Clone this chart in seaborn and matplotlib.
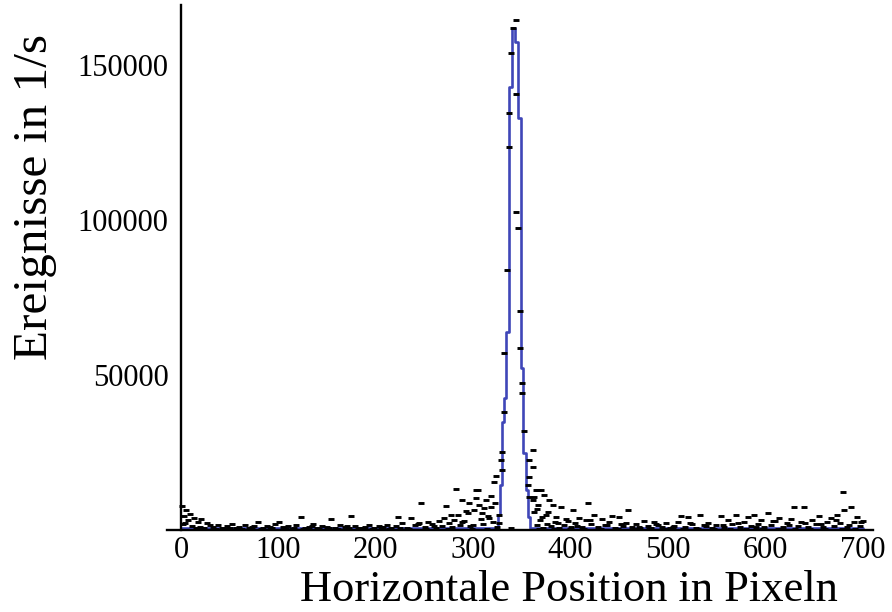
import matplotlib
matplotlib.use("Agg")
import matplotlib.pyplot as plt
import seaborn as sns
import numpy as np
from matplotlib.ticker import MultipleLocator, FixedLocator

# ---- data ----
# blue step curve (bin edges in pixel position, heights in events/s)
fit_edges = [0, 325, 327.5, 330, 332, 334, 337, 340, 343, 345.5, 349, 351, 354, 356, 358, 700]
fit_heights = [650, 4800, 14500, 34800, 42600, 63900, 142900, 162000, 157400,
               132900, 52300, 24800, 12900, 4200, 650]

# measured points (position, events/s)
pts_x = [1, 5, 3, 9, 13, 7, 17, 21, 2, 11, 27, 15, 24,
         33, 38, 42, 47, 52, 56, 60, 66, 70, 75, 79, 84, 88, 93, 97, 101, 105, 110, 114, 118,
         123, 127, 131, 136, 140, 145, 150, 154, 158, 163, 168, 172, 175, 179, 184, 189, 193,
         198, 203, 207, 212, 216, 221, 223, 227, 232, 236, 240, 244, 246, 250, 254, 258, 262,
         265, 268, 270, 272, 275, 278, 280, 282, 284, 286, 289, 291, 293, 295, 297, 300, 301,
         303, 305, 306, 303, 308, 310, 311, 313, 315, 318, 318, 320, 321, 323, 324, 326, 329,
         330, 330, 332, 332, 335, 337, 337, 339, 341, 344, 344, 344, 346, 348, 348, 350, 350,
         352, 361, 357, 361, 357, 356, 367, 357, 361, 373, 378, 382, 367, 362, 375, 385, 339,
         362, 370, 364,
         365, 369, 372, 376, 380, 384, 388, 390, 393, 397, 400, 402, 405, 409, 412, 416, 418,
         421, 424, 428, 432, 435, 439, 442, 446, 450, 454, 457, 459, 463, 467, 471, 475, 479,
         483, 486, 490, 494, 498, 502, 506, 510, 513, 517, 521, 525, 529, 533, 537, 541, 545,
         549, 554, 558, 562, 566, 570, 574, 578, 582, 585, 588, 592, 595, 599, 603, 606, 610,
         614, 618, 622, 626, 629, 633, 637, 640, 644, 648, 652, 655, 659, 663, 667, 670, 674,
         677, 680, 681, 684, 688, 691, 694, 697, 700,
         36, 45, 63, 82, 108, 125, 142, 161, 182, 196, 214, 234, 252, 274, 299, 314, 368, 383,
         399, 414, 431, 449, 466, 481, 497, 515, 531, 547, 564, 580, 597, 613, 630, 646, 661,
         679, 692,
         4, 19, 30, 50, 73, 91, 116, 134, 152, 170, 187, 205, 225, 243, 260, 277, 288, 296,
         309, 316, 322, 327, 366, 371, 377, 387, 395, 407, 420, 437, 452, 470, 488, 505, 523,
         539, 556, 572, 590, 608, 624, 641, 657, 672, 686, 698]
pts_y = [7900, 6300, 4600, 5300, 4000, 3100, 2700, 3500, 1800, 1300, 2200, 800, 600,
         900, 1500, 500, 1200, 2000, 700, 1000, 1700, 600, 1300, 2600, 800, 1400, 500, 1900,
         2600, 900, 1200, 400, 1600,
         4200, 700, 1100, 1800, 500, 1300, 900, 3500, 600, 1500, 1000, 700, 4500, 1400, 500,
         1100, 1700,
         600, 1300, 900, 1600, 500, 1200, 4200, 2100, 800, 3900, 1500, 2300, 8700, 1000, 2600,
         1800, 700,
         2900, 1300, 3900, 7700, 2200, 1000, 3300, 13200, 5000, 1700, 9700, 2800, 6100, 5500,
         1200, 1600, 6500,
         12900, 12900, 8100, 10300, 3600, 2000, 7100, 9700, 4400, 11000, 7400, 2700, 15500,
         17400, 1000, 4800, 22600,
         25200, 19400, 38100, 57100, 83900, 123600, 134500, 153900, 162000, 164500, 140600,
         102600, 97400, 70600, 58700, 47400, 44200,
         31900, 25800, 22600, 20300, 17100, 14500, 12900, 10600, 9700, 11300, 9700, 8100,
         8100, 5800, 4800, 4200, 650,
         10600, 12900, 12900,
         1500, 3200, 800, 2000, 1200, 2600, 700, 7400, 1700, 3000, 900, 6500, 2200, 4000, 1100,
         3300, 8700,
         1800, 4700, 900, 3600, 1500, 2600, 4500, 700, 4200, 1300, 2400, 6500, 900, 1900, 600,
         2800, 1200,
         700, 2600, 1500, 900, 2100, 600, 1400, 2700, 4500, 1000, 4200, 1800, 700, 4800, 1500,
         2300, 800,
         1700, 4500, 1100, 3200, 2000, 5000, 900, 2500, 4200, 1300, 4800, 2000, 3300, 900,
         5500, 1500, 2800,
         4000, 1100, 2200, 3400, 7400, 1300, 2600, 7400, 900, 3200, 1800, 4600, 1000, 2700,
         3800, 1300, 5000,
         2100, 12300, 6500, 900, 7400, 2500, 4300, 1200, 3000,
         300, 400, 350, 450, 300, 350, 250, 400, 300, 450, 350, 300, 400, 350, 450, 300, 400,
         350,
         300, 450, 300, 350, 400, 300, 450, 350, 300, 400, 350, 300, 450, 350, 300, 400, 350,
         300, 400,
         2200, 1000, 1700, 800, 1100, 900, 700, 1400, 800, 1200, 600, 1000, 700, 1900, 1400,
         4700, 2500, 8800,
         5600, 3900, 8600, 2300, 6800, 4100, 5900, 2300, 3400, 1200, 3100, 1600, 2000, 1100,
         1800,
         900, 2200, 1300, 1700, 2400, 1100, 3000, 1600, 2300, 1900, 3300, 1500, 2600]

x_ticks = [0, 100, 200, 300, 400, 500, 600, 700]
y_ticks = [50000, 100000, 150000]

# ---- figure ----
sns.set_theme(style="white")
plt.rcParams["font.family"] = ["Liberation Serif", "DejaVu Serif"]

fig = plt.figure(figsize=(8.92, 6.12), dpi=100)
ax = fig.add_axes([167 / 892, (612 - 530) / 612, 706 / 892, 525 / 612])

step_y = list(fit_heights) + [fit_heights[-1]]
sns.lineplot(x=fit_edges, y=step_y, drawstyle="steps-post", color="#3f46b8",
             linewidth=1.9, estimator=None, sort=False, ax=ax, zorder=2)
sns.scatterplot(x=pts_x, y=pts_y, marker="_", s=22, color="black", linewidth=2.1,
                ax=ax, zorder=3, clip_on=False)

ax.set_xlim(-14.4, 710.5)
ax.set_ylim(0, 169400)

for s in ["top", "right"]:
    ax.spines[s].set_visible(False)
ax.spines["left"].set_position(("data", 0))
for s in ["left", "bottom"]:
    ax.spines[s].set_color("black")
    ax.spines[s].set_linewidth(1.7)

ax.xaxis.set_major_locator(FixedLocator(x_ticks))
ax.set_xticklabels([str(v) for v in x_ticks])
ax.yaxis.set_major_locator(FixedLocator(y_ticks))
ax.set_yticklabels([str(v) for v in y_ticks])
ax.yaxis.set_minor_locator(MultipleLocator(10000))
ax.xaxis.set_minor_locator(MultipleLocator(20))

ax.tick_params(axis="both", which="both", direction="in", colors="black",
               labelsize=22, width=1.3)
ax.tick_params(axis="y", which="major", length=6, pad=9)
ax.tick_params(axis="y", which="minor", length=4)
ax.tick_params(axis="x", which="major", length=0, pad=4)
ax.tick_params(axis="x", which="minor", length=0)
ax.set_xlabel("")
ax.set_ylabel("")

fig.text(569 / 892, 1 - 601 / 612, "Horizontale Position in Pixeln", fontsize=32,
         ha="center", va="baseline", color="black")
fig.text(35 / 892, 1 - 197 / 612, "Ereignisse in 1/s", fontsize=35.5, rotation=90,
         ha="center", va="center", color="black")

fig.savefig("out.png", dpi=100)
